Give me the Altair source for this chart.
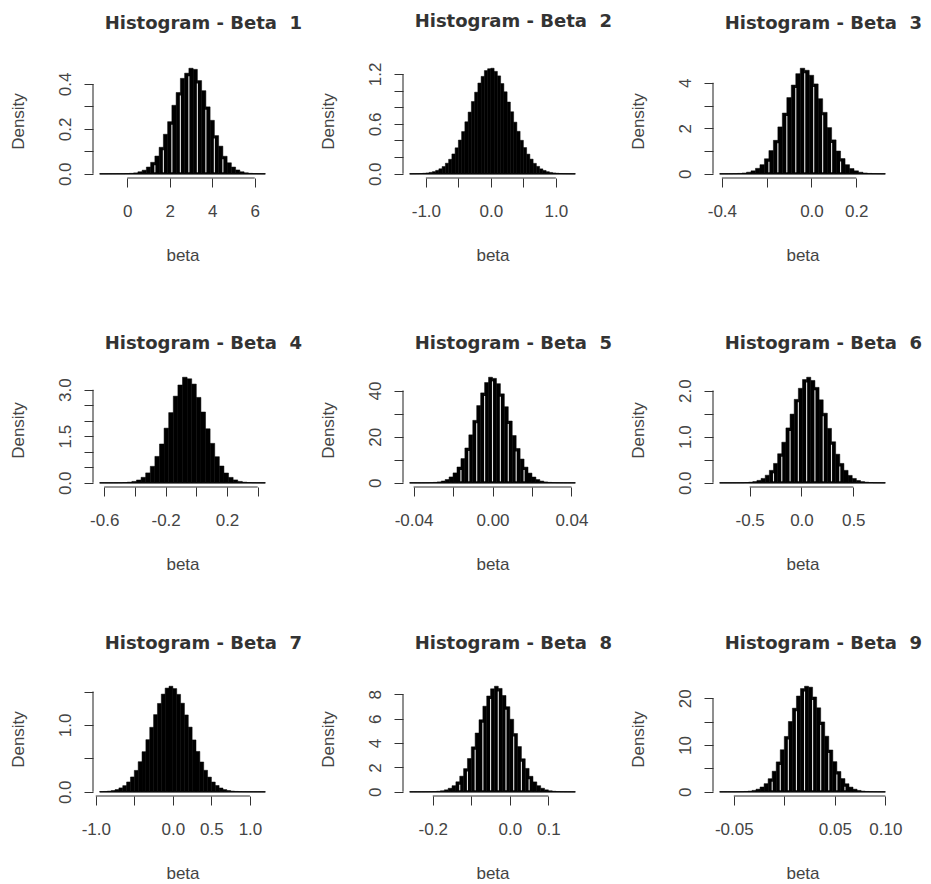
import json
import altair as alt
import pandas as pd

# ---------------- data ----------------
W, H = 179, 114

panel_titles = [f"Histogram - Beta\u00a0 {i}" for i in range(1, 10)]

bin_start = [-1.3, -1.25, -0.41, -0.63, -0.042, -0.79, -0.95, -0.26, -0.064]
bin_width = [0.2, 0.05, 0.02, 0.03, 0.002, 0.04, 0.05, 0.01, 0.004]

dens1 = [0.0, 0.0, 0.0002, 0.0003, 0.0005, 0.0006, 0.0012, 0.002, 0.004, 0.009,
         0.016, 0.030, 0.051, 0.079, 0.118, 0.176, 0.232, 0.305, 0.362, 0.425,
         0.448, 0.47, 0.465, 0.415, 0.37, 0.298, 0.238, 0.170, 0.123, 0.078,
         0.049, 0.030, 0.017, 0.009, 0.0045, 0.002, 0.001, 0.0005, 0.0002]
dens2 = [0.0005, 0.001, 0.002, 0.0035, 0.006, 0.010, 0.017, 0.026, 0.041, 0.060,
         0.087, 0.127, 0.174, 0.238, 0.312, 0.405, 0.507, 0.624, 0.741, 0.868,
         0.980, 1.090, 1.170, 1.240, 1.262, 1.268, 1.230, 1.176, 1.084, 0.985,
         0.862, 0.745, 0.620, 0.510, 0.402, 0.315, 0.236, 0.176, 0.125, 0.089,
         0.059, 0.040, 0.025, 0.016, 0.010, 0.006, 0.0035, 0.002, 0.001, 0.0006,
         0.0003]
dens3 = [0.0005, 0.0012, 0.003, 0.007, 0.016, 0.034, 0.07, 0.13, 0.24, 0.40,
         0.66, 1.02, 1.47, 2.06, 2.67, 3.35, 3.90, 4.40, 4.64, 4.55,
         4.33, 3.95, 3.30, 2.70, 2.03, 1.49, 1.00, 0.67, 0.40, 0.23,
         0.13, 0.068, 0.034, 0.016, 0.007, 0.003, 0.0012]
dens4 = [0.0, 0.0001, 0.0004, 0.0013, 0.0035, 0.0085, 0.020, 0.045, 0.090, 0.176,
         0.318, 0.53, 0.85, 1.25, 1.76, 2.26, 2.79, 3.15, 3.40, 3.35,
         3.18, 2.75, 2.28, 1.74, 1.27, 0.84, 0.54, 0.315, 0.174, 0.092,
         0.044, 0.020, 0.0085, 0.0034, 0.0013, 0.0004]
dens5 = [0.0006, 0.002, 0.005, 0.014, 0.036, 0.083, 0.18, 0.38, 0.76, 1.42,
         2.53, 4.28, 6.85, 10.5, 15.1, 20.8, 27.1, 33.5, 39.0, 43.5,
         45.8, 45.3, 43.0, 38.6, 33.0, 26.8, 20.5, 14.9, 10.3, 6.8,
         4.2, 2.5, 1.40, 0.74, 0.37, 0.18, 0.08, 0.035, 0.014, 0.005,
         0.002, 0.0006]
dens6 = [0.0, 0.0001, 0.0002, 0.0004, 0.0011, 0.0026, 0.006, 0.013, 0.027, 0.052,
         0.095, 0.165, 0.27, 0.42, 0.63, 0.88, 1.19, 1.49, 1.81, 2.05,
         2.24, 2.29, 2.22, 2.07, 1.80, 1.51, 1.18, 0.89, 0.62, 0.42,
         0.27, 0.16, 0.094, 0.050, 0.026, 0.013, 0.006, 0.0026, 0.0011, 0.0004]
dens7 = [0.003, 0.005, 0.010, 0.019, 0.033, 0.058, 0.092, 0.147, 0.222, 0.320,
         0.450, 0.600, 0.780, 0.965, 1.155, 1.322, 1.462, 1.552, 1.580, 1.545,
         1.458, 1.326, 1.150, 0.968, 0.776, 0.604, 0.446, 0.322, 0.220, 0.146,
         0.094, 0.057, 0.033, 0.019, 0.010, 0.0055, 0.0027, 0.0013, 0.0006, 0.0003,
         0.0001, 0.00005, 0.00002]
dens8 = [0.0001, 0.0003, 0.0007, 0.0017, 0.0041, 0.0095, 0.021, 0.043, 0.085, 0.16,
         0.29, 0.50, 0.82, 1.28, 1.90, 2.73, 3.69, 4.82, 5.91, 7.02,
         7.86, 8.45, 8.66, 8.48, 7.90, 6.98, 5.95, 4.78, 3.71, 2.71,
         1.92, 1.27, 0.81, 0.50, 0.29, 0.16, 0.084, 0.042, 0.020, 0.009,
         0.004, 0.0017, 0.0007]
dens9 = [0.0003, 0.0008, 0.002, 0.0055, 0.0135, 0.032, 0.071, 0.148, 0.30, 0.56,
         1.02, 1.74, 2.80, 4.40, 6.40, 9.00, 11.85, 15.05, 17.90, 20.50,
         22.10, 22.60, 22.40, 20.30, 17.98, 14.95, 11.90, 8.95, 6.45, 4.35,
         2.83, 1.72, 1.00, 0.56, 0.29, 0.146, 0.070, 0.032, 0.0135, 0.0055,
         0.002]
densities = [dens1, dens2, dens3, dens4, dens5, dens6, dens7, dens8, dens9]

x_ticks = [[0, 2, 4, 6], [-1, -0.5, 0, 0.5, 1], [-0.4, -0.2, 0, 0.2],
           [-0.6, -0.4, -0.2, 0, 0.2, 0.4], [-0.04, -0.02, 0, 0.02, 0.04], [-0.5, 0, 0.5],
           [-1, -0.5, 0, 0.5, 1], [-0.2, -0.1, 0, 0.1], [-0.05, 0, 0.05, 0.1]]
x_labels = [["0", "2", "4", "6"], ["-1.0", "", "0.0", "", "1.0"], ["-0.4", "", "0.0", "0.2"],
            ["-0.6", "", "-0.2", "", "0.2", ""], ["-0.04", "", "0.00", "", "0.04"], ["-0.5", "0.0", "0.5"],
            ["-1.0", "", "0.0", "0.5", "1.0"], ["-0.2", "", "0.0", "0.1"], ["-0.05", "", "0.05", "0.10"]]
y_ticks = [[0, 0.1, 0.2, 0.3, 0.4], [0, 0.2, 0.4, 0.6, 0.8, 1.0, 1.2], [0, 1, 2, 3, 4],
           [0, 0.5, 1, 1.5, 2, 2.5, 3], [0, 10, 20, 30, 40], [0, 0.5, 1, 1.5, 2],
           [0, 0.5, 1, 1.5], [0, 2, 4, 6, 8], [0, 5, 10, 15, 20]]
y_labels = [["0.0", "", "0.2", "", "0.4"], ["0.0", "", "", "0.6", "", "", "1.2"], ["0", "", "2", "", "4"],
            ["0.0", "", "", "1.5", "", "", "3.0"], ["0", "", "20", "", "40"], ["0.0", "", "1.0", "", "2.0"],
            ["0.0", "", "1.0", ""], ["0", "2", "4", "6", "8"], ["0", "", "10", "", "20"]]

striped = [True, False, True, False, True, True, False, True, True]
title_offset = [22, 22, 22, 11, 11, 11, 20, 20, 20]

# ---------------- styling ----------------
AX = "#333333"
LAB = "#444444"
FONT = "Liberation Sans"


def label_expr(ticks, labels):
    return f"{json.dumps(labels)}[indexof({json.dumps(ticks)}, datum.value)]"


def panel(i):
    d = densities[i]
    n = len(d)
    s, w = bin_start[i], bin_width[i]
    edges = [round(s + k * w, 10) for k in range(n + 1)]
    bars = pd.DataFrame({"x0": edges[:-1], "x1": edges[1:], "d": d, "z": 0.0})
    r = edges[-1] - edges[0]
    m = max(d)
    xs = alt.Scale(domain=[edges[0] - 0.04 * r, edges[-1] + 0.04 * r], nice=False, zero=False)
    ys = alt.Scale(domain=[-0.04 * m, 1.04 * m], nice=False, zero=False)

    xaxis = alt.Axis(values=x_ticks[i], labelExpr=label_expr(x_ticks[i], x_labels[i]),
                     domain=False, grid=False, ticks=True, tickSize=9, tickColor=AX, tickWidth=1,
                     labelFont=FONT, labelFontSize=17, labelColor=LAB, labelPadding=16,
                     labelBaseline="top", labelAlign="center", labelFlush=False,
                     labelOverlap=False, labelBound=False,
                     title="beta", titleFont=FONT, titleFontSize=17, titleFontWeight="normal",
                     titleColor=LAB, titleY=77, titleBaseline="middle")
    yaxis = alt.Axis(values=y_ticks[i], labelExpr=label_expr(y_ticks[i], y_labels[i]),
                     domain=False, grid=False, ticks=True, tickSize=9, tickColor=AX, tickWidth=1,
                     labelFont=FONT, labelFontSize=17, labelColor=LAB, labelPadding=19,
                     labelAngle=270, labelAlign="center", labelBaseline="middle",
                     labelFlush=False, labelOverlap=False, labelBound=False,
                     title="Density", titleFont=FONT, titleFontSize=17, titleFontWeight="normal",
                     titleColor=LAB, titleAngle=270, titleX=-75, titleY=H / 2,
                     titleAlign="center", titleBaseline="middle")

    layers = []
    layers.append(
        alt.Chart(bars).mark_rect(color="black", stroke="black", strokeWidth=0.5).encode(
            x=alt.X("x0:Q", scale=xs, axis=xaxis),
            x2="x1:Q",
            y=alt.Y("d:Q", scale=ys, axis=yaxis),
            y2="z:Q",
        )
    )
    if striped[i]:
        sx, sh = [], []
        for k in range(1, n, 2):
            h = min(d[k - 1], d[k])
            if h > 0.07 * m:
                sx.append(edges[k])
                sh.append(h)
        stripes = pd.DataFrame({"x": sx, "h": sh, "z": 0.0})
        layers.append(
            alt.Chart(stripes).mark_rule(color="#e4e4e4", strokeWidth=1.1, yOffset=-1.5, y2Offset=3).encode(
                x=alt.X("x:Q", scale=xs, axis=xaxis),
                y=alt.Y("z:Q", scale=ys, axis=yaxis),
                y2="h:Q",
            )
        )
    base = pd.DataFrame({"a": [edges[0]], "b": [edges[-1]], "z": [0.0]})
    layers.append(
        alt.Chart(base).mark_rule(color="black", strokeWidth=1.3).encode(
            x=alt.X("a:Q", scale=xs, axis=xaxis), x2="b:Q",
            y=alt.Y("z:Q", scale=ys, axis=yaxis),
        )
    )
    xl = pd.DataFrame({"a": [x_ticks[i][0]], "b": [x_ticks[i][-1]]})
    layers.append(
        alt.Chart(xl).mark_rule(color=AX, strokeWidth=1.1).encode(
            x=alt.X("a:Q", scale=xs, axis=xaxis), x2="b:Q", y=alt.value(H),
        )
    )
    yl = pd.DataFrame({"a": [y_ticks[i][0]], "b": [y_ticks[i][-1]]})
    layers.append(
        alt.Chart(yl).mark_rule(color=AX, strokeWidth=1.1).encode(
            y=alt.Y("a:Q", scale=ys, axis=yaxis), y2="b:Q", x=alt.value(0),
        )
    )
    return alt.layer(*layers).properties(
        width=W, height=H,
        title=alt.TitleParams(text=panel_titles[i], anchor="end", frame="group", dx=30,
                              offset=title_offset[i], baseline="middle", font="DejaVu Sans",
                              fontSize=18, fontWeight="bold", color="#333333"),
    )


chart = alt.concat(
    *[panel(i) for i in range(9)],
    columns=3,
    spacing={"row": 195, "column": 131},
    bounds="flush",
).properties(
    padding={"left": 9, "top": 13, "right": 0, "bottom": 0},
    background="white",
).configure_view(stroke=None)

chart.save("out.html", embed_options={"renderer": "svg", "actions": False})
